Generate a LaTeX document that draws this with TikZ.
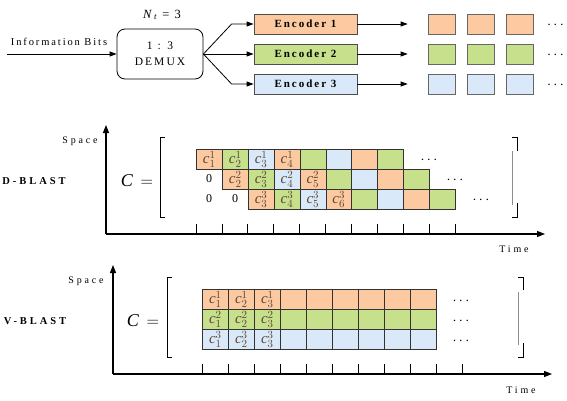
\documentclass[tikz,border=0pt]{standalone}
\usepackage{fontspec}
\setmainfont{Liberation Serif}
\newfontfamily\spaced[LetterSpace=18]{Liberation Serif}
\newfontfamily\wide[LetterSpace=28]{Liberation Serif}
\usetikzlibrary{arrows.meta}
\definecolor{col0}{HTML}{FCC9A0}
\definecolor{col1}{HTML}{C6E08C}
\definecolor{col2}{HTML}{D9E9F9}
\definecolor{lab}{HTML}{5A4636}
\newcommand\rowdots{{\fontsize{15}{15}\selectfont$\cdots$}}

\begin{document}
\begin{tikzpicture}[x=1pt,y=-1pt,
	arr/.style={line width=0.8,-{Triangle[length=7pt,width=5pt]}},
	axis/.style={line width=1.1,-{Triangle[length=8pt,width=6pt]}},
	cell/.style={draw=black!80,line width=0.7,minimum height=20pt,inner sep=0,anchor=north west},
	clab/.style={inner sep=0,text=lab,font=\fontsize{15}{15}\selectfont},
	enc/.style={draw=black!70,line width=0.8,minimum width=103pt,minimum height=20pt,inner sep=0,font=\spaced\bfseries\fontsize{11}{12}\selectfont},
	sq/.style={draw=black!60,line width=0.7,minimum width=27pt,minimum height=20pt,inner sep=0}]
				\useasboundingbox (0,0) rectangle (567,400);

				% transmitter
				\coordinate (src) at (7,54);
				\node[font=\spaced\fontsize{10.5}{12}\selectfont] (info) at (59,42) {Information Bits};
				\node[font=\fontsize{12.5}{13}\selectfont] (nt) at (162,15) {\textit{N}\,\textsubscript{\textit{t}}\, =\, 3};
				\node[draw,line width=0.8,rounded corners=8pt,minimum width=86pt,minimum height=50pt,align=center,
					font=\spaced\fontsize{11.5}{16}\selectfont] (demux) at (160,54) {1 : 3\\DEMUX};
				\draw[arr] (src) -- (demux.west);
				\node[enc,fill=col0] (enc1) at (305.5,24) {Encoder 1};
				\node[enc,fill=col1] (enc2) at (305.5,54) {Encoder 2};
				\node[enc,fill=col2] (enc3) at (305.5,84) {Encoder 3};
				\draw[arr] (demux.east) -- ([xshift=-22]enc1.west) -- (enc1.west);
				\draw[arr] (demux.east) -- (enc2.west);
				\draw[arr] (demux.east) -- ([xshift=-22]enc3.west) -- (enc3.west);
				\foreach \i [evaluate=\i as \m using int(\i-1)] in {1,2,3}{
					\foreach \j in {1,2,3}{
						\node[sq,fill=col\m] (sq\i\j) at (402.5+39*\j,-6+30*\i) {};
					}
					\node (tx\i) at (555.5,-5+30*\i) {\rowdots};
					\draw[arr] (enc\i.east) -- ([xshift=-20]sq\i1.west);
				}

				% D-BLAST
				\coordinate (o1) at (106,234);
				\coordinate (sp1) at (106,125);
				\coordinate (tm1) at (545,234);
				\draw[axis] (o1) -- (sp1);
				\draw[axis] (o1) -- (tm1);
				\node[font=\wide\fontsize{10}{12}\selectfont] (space1) at (80,141) {Space};
				\node[font=\wide\fontsize{10}{12}\selectfont] (time1) at (514,249) {Time};
				\node[font=\wide\bfseries\fontsize{10.5}{12}\selectfont] (dblast) at (34,181) {D-BLAST};
				\node[font=\fontsize{18}{18}\selectfont] (cd) at (137,181) {$\mathit{C}\,=$};
				\draw[line width=0.8] (165,137) -- (160,137) -- (160,217) -- (165,217);
				\draw[line width=0.8] (512,137) -- (517,137) -- (517,151);
				\draw[line width=0.8,black!45] (512,151) -- (512,205);
				\draw[line width=0.8] (517,203) -- (517,217) -- (512,217);
				\foreach \r in {0,1,2}{
					\foreach \k in {0,...,7}{
						\pgfmathtruncatemacro\c{\r+\k}
						\pgfmathtruncatemacro\m{mod(\k,3)}
						\node[cell,fill=col\m,minimum width=25.9pt] (d-\r-\c) at (196+25.9*\c,149+20*\r) {};
					}
					\foreach \k in {0,...,3}{
						\pgfmathtruncatemacro\c{\r+\k}
						\pgfmathtruncatemacro\ind{\c+1}
						\pgfmathtruncatemacro\ant{\r+1}
						\node[clab] (dl-\r-\c) at (d-\r-\c) {$\mathit{c}_{\ind}^{\ant}$};
					}
				}
				\node[font=\fontsize{12}{12}\selectfont] (z1) at (209,179) {0};
				\node[font=\fontsize{12}{12}\selectfont] (z2) at (209,199) {0};
				\node[font=\fontsize{12}{12}\selectfont] (z3) at (235,199) {0};
				\node (dd0) at (429,160) {\rowdots};
				\node (dd1) at (455,180) {\rowdots};
				\node (dd2) at (481,200) {\rowdots};
				\foreach \i in {0,...,10}
					\draw[line width=0.8] (196+25.9*\i,234) -- ++(0,-10);

				% V-BLAST
				\coordinate (o2) at (113,374);
				\coordinate (sp2) at (113,265);
				\coordinate (tm2) at (552,374);
				\draw[axis] (o2) -- (sp2);
				\draw[axis] (o2) -- (tm2);
				\node[font=\wide\fontsize{10}{12}\selectfont] (space2) at (86,281) {Space};
				\node[font=\wide\fontsize{10}{12}\selectfont] (time2) at (521,390) {Time};
				\node[font=\wide\bfseries\fontsize{10.5}{12}\selectfont] (vblast) at (35,321) {V-BLAST};
				\node[font=\fontsize{18}{18}\selectfont] (cv) at (143,321) {$\mathit{C}\,=$};
				\draw[line width=0.8] (172,277) -- (167,277) -- (167,357) -- (172,357);
				\draw[line width=0.8] (518,277) -- (523,277) -- (523,290);
				\draw[line width=0.8,black!45] (518,292) -- (518,345);
				\draw[line width=0.8] (523,343) -- (523,357) -- (518,357);
				\foreach \r in {0,1,2}{
					\foreach \k in {0,...,8}{
						\node[cell,fill=col\r,minimum width=26pt] (v-\r-\k) at (202+26*\k,289+20*\r) {};
					}
					\foreach \k in {0,1,2}{
						\pgfmathtruncatemacro\ind{\k+1}
						\pgfmathtruncatemacro\ant{\r+1}
						\node[clab] (vl-\r-\k) at (v-\r-\k) {$\mathit{c}_{\ind}^{\ant}$};
					}
					\node (vd\r) at (461,301+20*\r) {\rowdots};
				}
				\foreach \i in {0,...,10}
					\draw[line width=0.8] (202+26*\i,374) -- ++(0,-10);
			\end{tikzpicture}
\end{document}
